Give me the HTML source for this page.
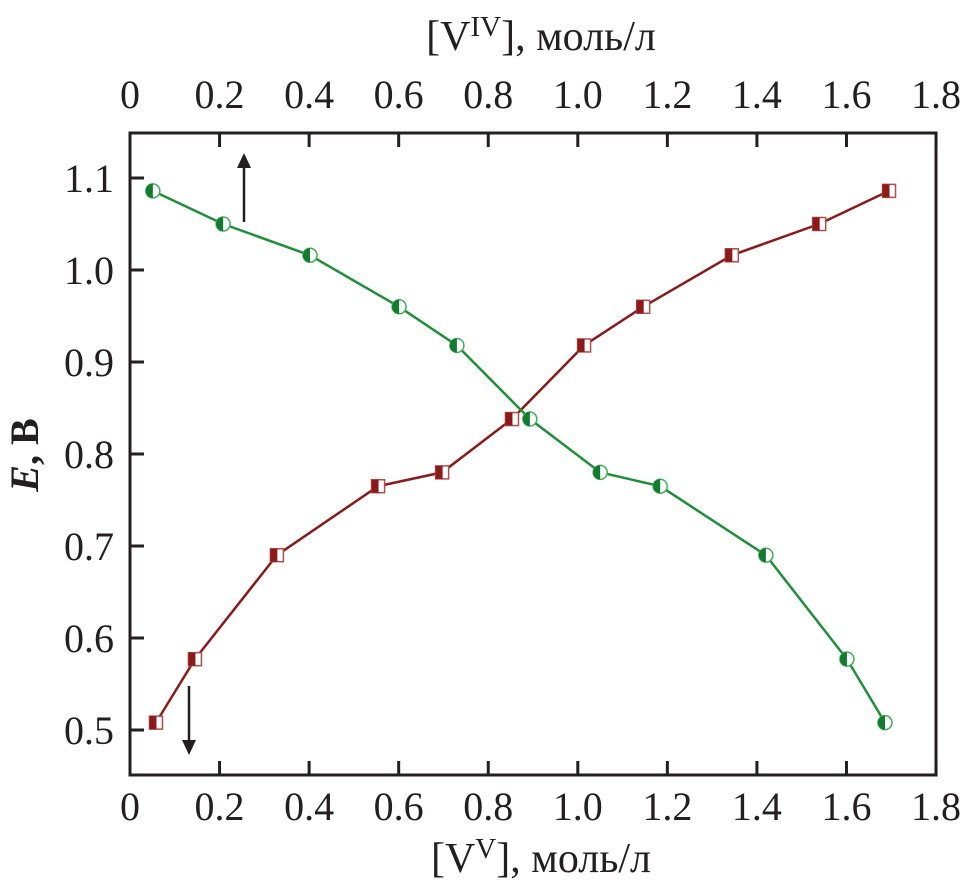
<!DOCTYPE html>
<html><head><meta charset="utf-8"><style>
html,body{margin:0;padding:0;background:#fff}
svg text{font-family:"Liberation Serif",serif;fill:#231f20}
</style></head><body>
<svg id="chart" width="962" height="886" xmlns="http://www.w3.org/2000/svg">
<rect x="130" y="133" width="806" height="642" fill="none" stroke="#231f20" stroke-width="3"/>
<g id="axes"></g>
<g id="series"></g>
<text x="541" y="50" font-size="42" text-anchor="middle">[V<tspan font-size="29" dy="-14">IV</tspan><tspan dy="14">], моль/л</tspan></text>
<text x="541" y="872" font-size="42" text-anchor="middle">[V<tspan font-size="29" dy="-14">V</tspan><tspan dy="14">], моль/л</tspan></text>
<text transform="translate(38,455) rotate(-90)" font-size="40" font-weight="bold" text-anchor="middle"><tspan font-style="italic">E</tspan>, В</text>
<g><line x1="244" y1="222" x2="244" y2="165" stroke="#231f20" stroke-width="2.5"/><polygon points="237,168 251,168 244,153" fill="#231f20"/></g>
<g><line x1="189" y1="686" x2="189" y2="742" stroke="#231f20" stroke-width="2.5"/><polygon points="182,740 196,740 189,755" fill="#231f20"/></g>
</svg>
<script>
const xTicks=[0,0.2,0.4,0.6,0.8,1.0,1.2,1.4,1.6,1.8];
const xTickLabels=["0","0.2","0.4","0.6","0.8","1.0","1.2","1.4","1.6","1.8"];
const yTicks=[0.5,0.6,0.7,0.8,0.9,1.0,1.1];
const yTickLabels=["0.5","0.6","0.7","0.8","0.9","1.0","1.1"];
const vvConc=[0.058,0.145,0.328,0.554,0.697,0.853,1.014,1.146,1.344,1.539,1.695];
const vvE=[0.508,0.577,0.690,0.765,0.780,0.838,0.918,0.960,1.016,1.050,1.086];
const vivConc=[0.051,0.208,0.402,0.601,0.730,0.893,1.050,1.184,1.420,1.601,1.686];
const vivE=[1.086,1.050,1.016,0.960,0.918,0.838,0.780,0.765,0.690,0.577,0.508];
const NS="http://www.w3.org/2000/svg";
const X=v=>130+v*447.8;
const Y=v=>730-(v-0.5)*920;
function mk(tag,attrs,parent){const e=document.createElementNS(NS,tag);for(const k in attrs)e.setAttribute(k,attrs[k]);parent.appendChild(e);return e;}
const ax=document.getElementById('axes');
xTicks.forEach((t,i)=>{
  const b=mk('line',{x1:X(t),x2:X(t),y1:775,y2:761,stroke:'#231f20','stroke-width':3},ax);
  
  
  const tp=mk('line',{x1:X(t),x2:X(t),y1:133,y2:147,stroke:'#231f20','stroke-width':3},ax);
  
  
  const l1=mk('text',{x:X(t),y:820,'font-size':40,'text-anchor':'middle'},ax);l1.textContent=xTickLabels[i];
  
  
  const l2=mk('text',{x:X(t),y:108,'font-size':40,'text-anchor':'middle'},ax);l2.textContent=xTickLabels[i];
  
  
});
yTicks.forEach((t,i)=>{
  const tk=mk('line',{x1:130,x2:144,y1:Y(t),y2:Y(t),stroke:'#231f20','stroke-width':3},ax);
  
  
  const l=mk('text',{x:114,y:Y(t)+14,'font-size':40,'text-anchor':'end'},ax);l.textContent=yTickLabels[i];
  
  
});
const sg=document.getElementById('series');
const red='#8b1a1a',green='#1f8f3a';
const lr=mk('polyline',{points:vvConc.map((c,i)=>X(c)+','+Y(vvE[i])).join(' '),fill:'none',stroke:red,'stroke-width':2.5},sg);


const lg=mk('polyline',{points:vivConc.map((c,i)=>X(c)+','+Y(vivE[i])).join(' '),fill:'none',stroke:green,'stroke-width':2.5},sg);


vvConc.forEach((c,i)=>{
  const g=mk('g',{},sg);
  
  
  const x=X(c),y=Y(vvE[i]);
  mk('rect',{x:x-6.5,y:y-6.5,width:13,height:13,fill:'#fff',stroke:'#b54a4a','stroke-width':1.5},g);
  mk('rect',{x:x-6.5,y:y-6.5,width:7,height:13,fill:red},g);
});
vivConc.forEach((c,i)=>{
  const g=mk('g',{},sg);
  
  
  const x=X(c),y=Y(vivE[i]);
  mk('circle',{cx:x,cy:y,r:7,fill:'#fff',stroke:'#3fae58','stroke-width':1.5},g);
  mk('path',{d:`M${x},${y-7} A7,7 0 0 0 ${x},${y+7} Z`,fill:'#137a30'},g);
});
</script>
</body></html>
